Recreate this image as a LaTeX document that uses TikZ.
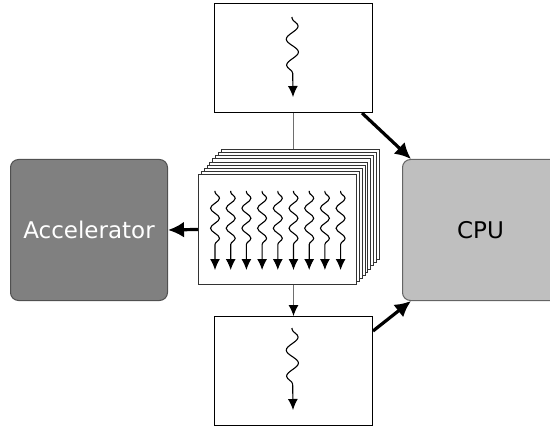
\documentclass[tikz,border=0pt]{standalone}
\usepackage{fontspec}
\setmainfont{DejaVu Sans}
\usetikzlibrary{decorations.pathmorphing,arrows.meta}
\definecolor{accfill}{RGB}{128,128,128}
\definecolor{accdraw}{RGB}{80,80,80}
\definecolor{cpufill}{RGB}{191,191,191}
\definecolor{cpudraw}{RGB}{100,100,100}
\definecolor{linkgray}{RGB}{110,110,110}
\begin{document}
\begin{tikzpicture}[x=1pt,y=-1pt,
  threadbox/.style={draw=black, line width=1pt, fill=white, inner sep=0pt,
    minimum width=158pt, minimum height=109pt, anchor=north west},
  card/.style={draw=black!80, line width=0.9pt, fill=white, inner sep=0pt,
    minimum width=158pt, minimum height=110pt, anchor=north west},
  unit/.style={rounded corners=8pt, line width=1pt, inner sep=0pt,
    minimum height=141pt, anchor=north west},
  label/.style={font=\fontsize{23}{27}\selectfont},
  bigarrow/.style={line width=3.2pt, -{Latex[length=16pt,width=16pt]}},
  wave/.style={line width=1.1pt, -{Latex[length=11pt,width=10pt]},
    decorate, decoration={snake, amplitude=#1, segment length=20pt,
    pre length=1pt, post length=22pt}},
  wave/.default=5pt
]
\useasboundingbox (0,0) rectangle (550,428);
\clip (0,0) rectangle (550,428);

% processing units
\node[unit, draw=accdraw, fill=accfill, minimum width=157pt]
  (acc) at (10,159) {};
\node[label, text=white] (acclabel) at (acc.center) {Accelerator};
\node[unit, draw=cpudraw, fill=cpufill, minimum width=156pt]
  (cpu) at (402,159) {};
\node[label] (cpulabel) at (cpu.center) {CPU};

% single-thread boxes
\node[threadbox] (top) at (214,3) {};
\node[threadbox] (bot) at (214,316) {};

% stack of parallel work cards
\foreach \i in {8,...,1} {
  \node[card] (card\i) at ({198+2.85*\i},{174-3.1*\i}) {};
}
\node[card] (front) at (198,174) {};

% threads in the front card
\foreach \k in {0,...,8} {
  \coordinate (ws\k) at ({215+15.7*\k},191);
  \coordinate (we\k) at ({215+15.7*\k},270);
  \draw[wave=4.5pt] (ws\k) -- (we\k);
}

% single threads
\coordinate (ts) at (292,17);
\coordinate (te) at (293,97);
\draw[wave=6pt, decoration={segment length=26pt, post length=22pt}] (ts) -- (te);
\coordinate (bs) at (292,328);
\coordinate (be) at (293,410);
\draw[wave=6pt, decoration={segment length=26pt, post length=22pt}] (bs) -- (be);

% connectors
\draw[linkgray, line width=1pt, -{Latex[length=11pt,width=10pt,color=black]}]
  (front.south -| bot.north) -- (bot.north);
\draw[linkgray, line width=1pt] (top.south) -- (top.south |- card8.north);
\draw[bigarrow] (front.west) -- (acc.east);
\draw[bigarrow] ([xshift=-11pt]top.south east) -- ([xshift=9pt]cpu.north west);
\draw[bigarrow] ([yshift=-15pt]bot.north east) -- ([xshift=9pt]cpu.south west);
\end{tikzpicture}
\end{document}
